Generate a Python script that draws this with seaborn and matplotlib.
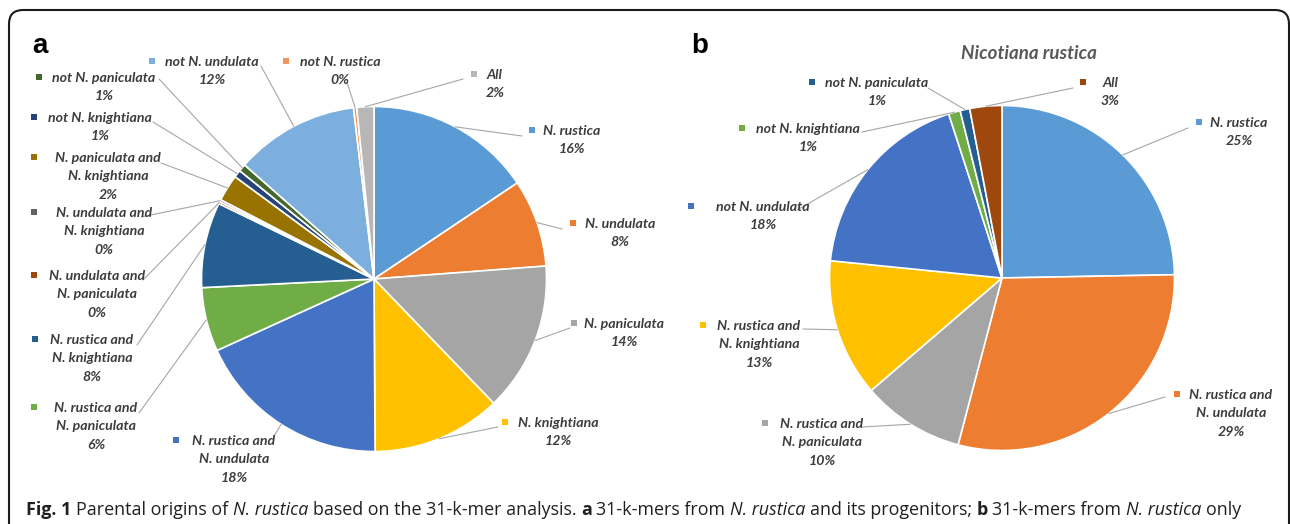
import matplotlib
matplotlib.use("Agg")
import matplotlib.pyplot as plt
from matplotlib.patches import FancyBboxPatch, Rectangle
import numpy as np
import seaborn as sns

# ---------------- data ----------------
a_labels = [
    "N. rustica", "N. undulata", "N. paniculata", "N. knightiana",
    "N. rustica and\nN. undulata", "N. rustica and\nN. paniculata",
    "N. rustica and\nN. knightiana", "N. undulata and\nN. paniculata",
    "N. undulata and\nN. knightiana", "N. paniculata and\nN. knightiana",
    "not N. knightiana", "not N. paniculata", "not N. undulata",
    "not N. rustica", "All",
]
a_values = [15.6, 8.2, 14.0, 12.1, 18.3, 6.0, 8.0, 0.2, 0.2, 2.5,
            0.7, 0.7, 11.6, 0.3, 1.6]

b_title = "Nicotiana rustica"
b_labels = [
    "N. rustica", "N. rustica and\nN. undulata", "N. rustica and\nN. paniculata",
    "N. rustica and\nN. knightiana", "not N. undulata", "not N. knightiana",
    "not N. paniculata", "All",
]
b_values = [24.7, 29.4, 9.6, 12.9, 18.4, 1.1, 0.9, 3.0]

caption_parts = [
    ("Fig. 1", "bold"), ("Parental origins of", None), ("N. rustica", "italic"),
    ("based on the 31-k-mer analysis.", None), ("a", "bold"),
    ("31-k-mers from", None), ("N. rustica", "italic"),
    ("and its progenitors;", None), ("b", "bold"), ("31-k-mers from", None),
    ("N. rustica", "italic"), ("only", None),
]

# ---------------- styling ----------------
office = ["#5B9BD5", "#ED7D31", "#A5A5A5", "#FFC000", "#4472C4", "#70AD47",
          "#255E91", "#9E480E", "#636363", "#997300", "#264478", "#43682B",
          "#7CAFDD", "#F1975A", "#B7B7B7"]
a_colors = sns.color_palette(office, 15)
b_colors = sns.color_palette(office[:8], 8)

sns.set_theme(style="white")
plt.rcParams["font.family"] = ["Lato", "DejaVu Sans"]

W, H = 1290, 524
fig = plt.figure(figsize=(W / 100, H / 100), dpi=100)
ax = fig.add_axes([0, 0, 1, 1])

LABEL_COLOR = "#3d3d3d"
LEADER_COLOR = "#A6A6A6"
LABEL_FS = 10.2
STEP = 18.7

# label layout: (text centre x, first line y, marker x, leader end x, leader end y)
a_layout = [
    (572, 130, 532, 522, 136), (620, 223, 573, 562, 229), (624, 323, 574, 570, 328),
    (558, 422, 505, 498, 427), (234, 440, 176, 274, 436), (96, 407, 34, 139, 413),
    (92, 339, 35, 137, 345), (97, 275, 34, 143, 280), (104, 212, 34, 141, 217),
    (108, 157, 34, 161, 163), (100, 117, 34, 153, 122), (104, 77, 39, 159, 79),
    (212, 61, 152, 261, 66), (340, 61, 286, 347, 82), (495, 74, 474, 463, 79),
]
b_layout = [
    (1239, 122, 1199, 1188, 128), (1231, 394, 1177, 1165, 397),
    (822, 423, 765, 862, 427), (759, 325, 703, 803, 329),
    (763, 206, 691, 797, 210), (808, 128, 742, 862, 132),
    (877, 82, 812, 928, 88), (1110, 82, 1083, 1073, 88),
]


def draw_pie(values, labels, colors, center, radius, layout):
    wedges, _ = ax.pie(values, colors=colors, startangle=90, counterclock=False,
                       center=(center[0], H - center[1]), radius=radius, frame=True,
                       wedgeprops=dict(edgecolor="white", linewidth=1.2))
    total = float(np.sum(values))
    for w, lab, val, col, (tx, ty, sx, lx, ly) in zip(wedges, labels, values, colors, layout):
        mid = np.deg2rad((w.theta1 + w.theta2) / 2)
        px = w.center[0] + w.r * np.cos(mid)
        py = w.center[1] + w.r * np.sin(mid)
        ax.plot([px, lx], [py, H - ly], color=LEADER_COLOR, lw=0.8, zorder=1)
        lines = lab.split("\n") + [f"{val / total * 100:.0f}%"]
        for i, line in enumerate(lines):
            ax.text(tx, H - (ty + i * STEP) - 4.6, line, ha="center", va="baseline",
                    fontsize=LABEL_FS, fontweight="bold", style="italic",
                    color=LABEL_COLOR)
        ax.add_patch(Rectangle((sx - 3.3, H - ty - 3.3), 6.6, 6.6, facecolor=col,
                               edgecolor="none"))


draw_pie(a_values, a_labels, a_colors, (374, 279), 172.5, a_layout)
draw_pie(b_values, b_labels, b_colors, (1002, 278), 172.5, b_layout)

ax.text(1029, H - 59, b_title, ha="center", va="baseline", fontsize=13.5,
        fontweight="bold", style="italic", color="#595959")

for letter, x in (("a", 39.5), ("b", 699.5)):
    ax.text(x, H - 53, letter, ha="center", va="baseline", fontsize=20,
            fontweight="bold", color="black", family="Liberation Sans")

# outer frame with rounded corners (bottom edge runs off the canvas)
frame = FancyBboxPatch((9, -80), 1280, H - 10 + 80,
                       boxstyle="round,pad=0,rounding_size=14",
                       facecolor="none", edgecolor="#1a1a1a", linewidth=1.5)
ax.add_patch(frame)

ax.set_xlim(0, W)
ax.set_ylim(0, H)
ax.set_aspect("equal")
ax.axis("off")

# caption, laid out piece by piece
renderer = fig.canvas.get_renderer()


def text_width(s, **kw):
    t = ax.text(0, 0, s, **kw)
    w = t.get_window_extent(renderer=renderer).width
    t.remove()
    return w


def layout_caption(fs, draw):
    base = dict(fontsize=fs, family="Open Sans", color="#231F20")
    space = text_width("x x", **base) - text_width("xx", **base)
    x = 26
    for i, (s, kind) in enumerate(caption_parts):
        kw = dict(base)
        if kind == "bold":
            kw["fontweight"] = "bold"
        elif kind == "italic":
            kw["style"] = "italic"
        if draw:
            ax.text(x, H - 515, s, ha="left", va="baseline", **kw)
        x += text_width(s, **kw)
        if i < len(caption_parts) - 1:
            x += space
    return x


end = layout_caption(12, False)
fs = 12 * (1242 - 26) / (end - 26)
layout_caption(fs, True)

fig.savefig("out.png", dpi=100)
